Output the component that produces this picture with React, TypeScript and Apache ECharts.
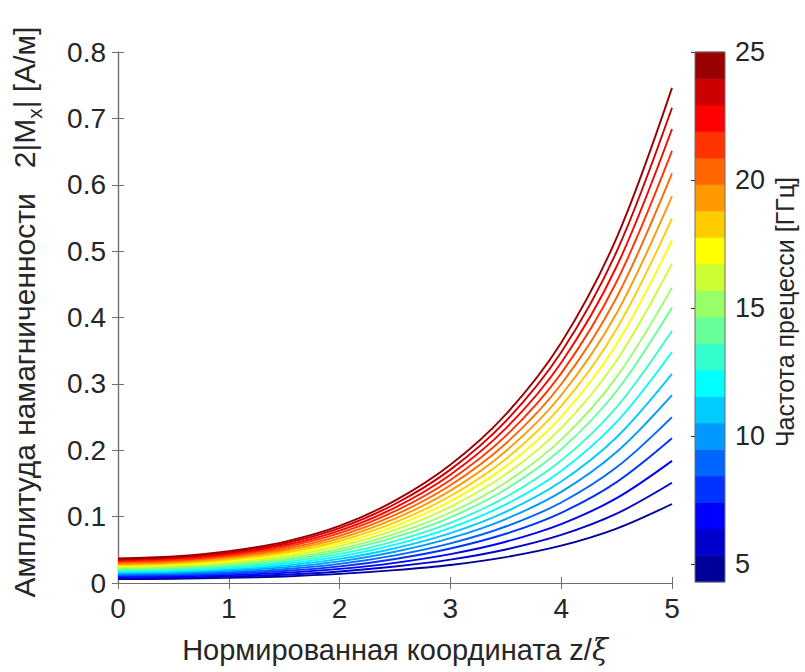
import React, { useEffect, useRef } from "react";
import * as echarts from "echarts";

// Normalised coordinate z/ξ
const Z = [0, 0.5, 1, 1.5, 2, 2.5, 3, 3.5, 4, 4.5, 5];

// Precession frequency of each curve, GHz (low → high)
const FREQ = [4.8, 5.9, 6.9, 7.9, 9.0, 10.0, 11.0, 12.1, 13.1, 14.1, 15.2, 16.2, 17.3, 18.3, 19.3, 20.4, 21.4, 22.4, 23.5, 24.5];

// Amplitude 2|Mx| [A/m] per curve, sampled at Z
const c01 = [0.0059, 0.0064, 0.0077, 0.0099, 0.0137, 0.0194, 0.0272, 0.039, 0.0562, 0.082, 0.119];
const c02 = [0.0075, 0.0081, 0.0097, 0.0125, 0.0174, 0.0248, 0.0352, 0.0505, 0.0724, 0.1045, 0.151];
const c03 = [0.0091, 0.0099, 0.0118, 0.0153, 0.0212, 0.0304, 0.0435, 0.0622, 0.0888, 0.1278, 0.184];
const c04 = [0.0108, 0.0117, 0.014, 0.0181, 0.0251, 0.0362, 0.052, 0.0742, 0.1058, 0.152, 0.218];
const c05 = [0.0124, 0.0134, 0.0161, 0.0208, 0.0288, 0.0416, 0.0597, 0.0851, 0.1213, 0.1743, 0.25];
const c06 = [0.014, 0.0152, 0.0182, 0.0235, 0.0326, 0.047, 0.0675, 0.0964, 0.1373, 0.1973, 0.283];
const c07 = [0.0156, 0.0169, 0.0203, 0.0262, 0.0363, 0.0524, 0.0752, 0.1073, 0.1529, 0.2196, 0.315];
const c08 = [0.0173, 0.0187, 0.0224, 0.0289, 0.0401, 0.0578, 0.083, 0.1185, 0.1689, 0.2426, 0.348];
const c09 = [0.0189, 0.0204, 0.0244, 0.0316, 0.0438, 0.0632, 0.0907, 0.1294, 0.1844, 0.2649, 0.38];
const c10 = [0.0206, 0.0222, 0.0267, 0.0345, 0.0479, 0.069, 0.099, 0.1413, 0.2014, 0.2893, 0.415];
const c11 = [0.0221, 0.0239, 0.0286, 0.037, 0.0513, 0.074, 0.1062, 0.1515, 0.216, 0.3102, 0.445];
const c12 = [0.0239, 0.0258, 0.0309, 0.04, 0.0555, 0.0799, 0.1148, 0.1638, 0.2334, 0.3353, 0.481];
const c13 = [0.0256, 0.0277, 0.0332, 0.0429, 0.0595, 0.0858, 0.1231, 0.1757, 0.2504, 0.3597, 0.516];
const c14 = [0.0272, 0.0294, 0.0353, 0.0456, 0.0633, 0.0912, 0.131, 0.1869, 0.2664, 0.3827, 0.549];
const c15 = [0.0289, 0.0313, 0.0375, 0.0485, 0.0672, 0.0969, 0.1391, 0.1985, 0.2829, 0.4064, 0.583];
const c16 = [0.0306, 0.0331, 0.0397, 0.0513, 0.0711, 0.1025, 0.1472, 0.2101, 0.2994, 0.4301, 0.617];
const c17 = [0.0323, 0.0349, 0.0419, 0.0541, 0.0751, 0.1082, 0.1553, 0.2217, 0.3159, 0.4538, 0.651];
const c18 = [0.0339, 0.0367, 0.044, 0.0568, 0.0789, 0.1137, 0.1632, 0.2329, 0.3319, 0.4768, 0.684];
const c19 = [0.0355, 0.0384, 0.046, 0.0595, 0.0826, 0.119, 0.1708, 0.2438, 0.3475, 0.4991, 0.716];
const c20 = [0.037, 0.04, 0.048, 0.062, 0.086, 0.124, 0.178, 0.254, 0.362, 0.52, 0.746];
const CURVES = [c01, c02, c03, c04, c05, c06, c07, c08, c09, c10, c11, c12, c13, c14, c15, c16, c17, c18, c19, c20];

// jet(20) colormap
const JET = [
  "#000099", "#0000CC", "#0000FF", "#0033FF", "#0066FF", "#0099FF", "#00CCFF", "#00FFFF", "#33FFCC", "#66FF99",
  "#99FF66", "#CCFF33", "#FFFF00", "#FFCC00", "#FF9900", "#FF6600", "#FF3300", "#FF0000", "#CC0000", "#990000",
];

// Colorbar
const CB_MIN = 4.3;
const CB_MAX = 25;
const CB_TICKS = [5, 10, 15, 20, 25];
const Y_TICKS = [0, 0.1, 0.2, 0.3, 0.4, 0.5, 0.6, 0.7, 0.8];
const X_TICKS = [0, 1, 2, 3, 4, 5];

const FONT = "'Liberation Sans', Arial, Helvetica, sans-serif";
const TXT = "#262626";
const FRAME = "#6f6f6f";

export default function App() {
  const ref = useRef<HTMLDivElement>(null);
  useEffect(() => {
    if (!ref.current) return;
    const chart = echarts.init(ref.current, null, { renderer: "svg" });

    const n = JET.length;
    const step = (CB_MAX - CB_MIN) / n;
    const cbData = JET.map((_, i) => [CB_MIN + i * step, CB_MIN + (i + 1) * step, i]);

    const lineSeries = CURVES.map((vals, i) => ({
      name: FREQ[i] + " ГГц",
      type: "line",
      xAxisIndex: 0,
      yAxisIndex: 0,
      data: Z.map((z, j) => [z, vals[j]]),
      showSymbol: false,
      smooth: 0.33,
      lineStyle: { color: JET[i], width: 1.9 },
      itemStyle: { color: JET[i] },
      z: 2,
    }));

    const tickCommon = { inside: true, length: 6, lineStyle: { color: FRAME, width: 1 } };
    const lineCommon = { show: true, lineStyle: { color: FRAME, width: 1.2 } };
    const labelCommon = { color: TXT, fontSize: 28, fontFamily: FONT };

    chart.setOption({
      animation: false,
      backgroundColor: "#ffffff",
      grid: [
        { left: 118, top: 52, width: 554, height: 531, show: false },
        { left: 695, top: 52, width: 30, height: 530, show: false },
      ],
      xAxis: [
        {
          type: "value", gridIndex: 0, min: 0, max: 5, interval: 1, position: "bottom",
          axisLine: lineCommon, axisTick: tickCommon, splitLine: { show: false },
          axisLabel: { ...labelCommon, margin: 11, customValues: X_TICKS },
        },
        {
          type: "value", gridIndex: 0, min: 0, max: 5, interval: 1, position: "top",
          axisLine: lineCommon, axisTick: tickCommon, splitLine: { show: false },
          axisLabel: { show: false },
        },
        {
          type: "value", gridIndex: 1, min: 0, max: 1, show: false,
        },
      ],
      yAxis: [
        {
          type: "value", gridIndex: 0, min: 0, max: 0.8, interval: 0.1, position: "left",
          axisLine: lineCommon, axisTick: tickCommon, splitLine: { show: false },
          axisLabel: { ...labelCommon, margin: 12, customValues: Y_TICKS },
        },
        {
          type: "value", gridIndex: 0, min: 0, max: 0.8, interval: 0.1, position: "right",
          axisLine: lineCommon, axisTick: tickCommon, splitLine: { show: false },
          axisLabel: { show: false },
        },
        {
          type: "value", gridIndex: 1, min: CB_MIN, max: CB_MAX, position: "right",
          axisLine: { show: true, lineStyle: { color: FRAME, width: 1 } },
          axisTick: { inside: true, length: 4, customValues: CB_TICKS, lineStyle: { color: "#333", width: 1 } },
          axisLabel: { ...labelCommon, fontSize: 27, margin: 10, customValues: CB_TICKS },
          splitLine: { show: false },
        },
      ],
      series: [
        ...lineSeries,
        {
          type: "custom",
          xAxisIndex: 2,
          yAxisIndex: 2,
          clip: false,
          data: cbData,
          renderItem: (params: any, api: any) => {
            const lo = api.value(0);
            const hi = api.value(1);
            const idx = api.value(2);
            const p1 = api.coord([0, hi]);
            const p2 = api.coord([1, lo]);
            return {
              type: "rect",
              shape: { x: p1[0], y: p1[1] - 0.3, width: p2[0] - p1[0], height: p2[1] - p1[1] + 0.6 },
              style: { fill: JET[idx], stroke: null },
            };
          },
          z: 1,
        },
      ],
      graphic: [
        {
          type: "rect",
          shape: { x: 695, y: 52, width: 30, height: 530 },
          style: { fill: "none", stroke: FRAME, lineWidth: 1 },
          z: 10,
          silent: true,
        },
        {
          type: "text",
          x: 24,
          y: 312,
          rotation: Math.PI / 2,
          style: {
            text: "{a|Амплитуда намагниченности   2|M}{s|x}{a|| [A/м]}",
            align: "center",
            verticalAlign: "middle",
            rich: {
              a: { fontSize: 30, fontFamily: FONT, fill: TXT, lineHeight: 42, verticalAlign: "middle" },
              s: { fontSize: 21, fontFamily: FONT, fill: TXT, lineHeight: 42, verticalAlign: "bottom" },
            },
          },
        },
        {
          type: "text",
          x: 395,
          y: 650,
          style: {
            text: "{a|Нормированная координата z/}{i|ξ}",
            align: "center",
            verticalAlign: "middle",
            rich: {
              a: { fontSize: 29, fontFamily: FONT, fill: TXT },
              i: { fontSize: 29, fontFamily: "'DejaVu Serif', serif", fontStyle: "italic", fill: TXT },
            },
          },
        },
        {
          type: "text",
          x: 785,
          y: 312,
          rotation: Math.PI / 2,
          style: {
            text: "Частота прецесси [ГГц]",
            align: "center",
            verticalAlign: "middle",
            fontSize: 25,
            fontFamily: FONT,
            fill: TXT,
          },
        },
      ],
    });
    return () => chart.dispose();
  }, []);
  return (
    <div
      ref={ref}
      style={{ position: "fixed", left: 0, top: 0, width: 805, height: 672, background: "#fff" }}
    />
  );
}
